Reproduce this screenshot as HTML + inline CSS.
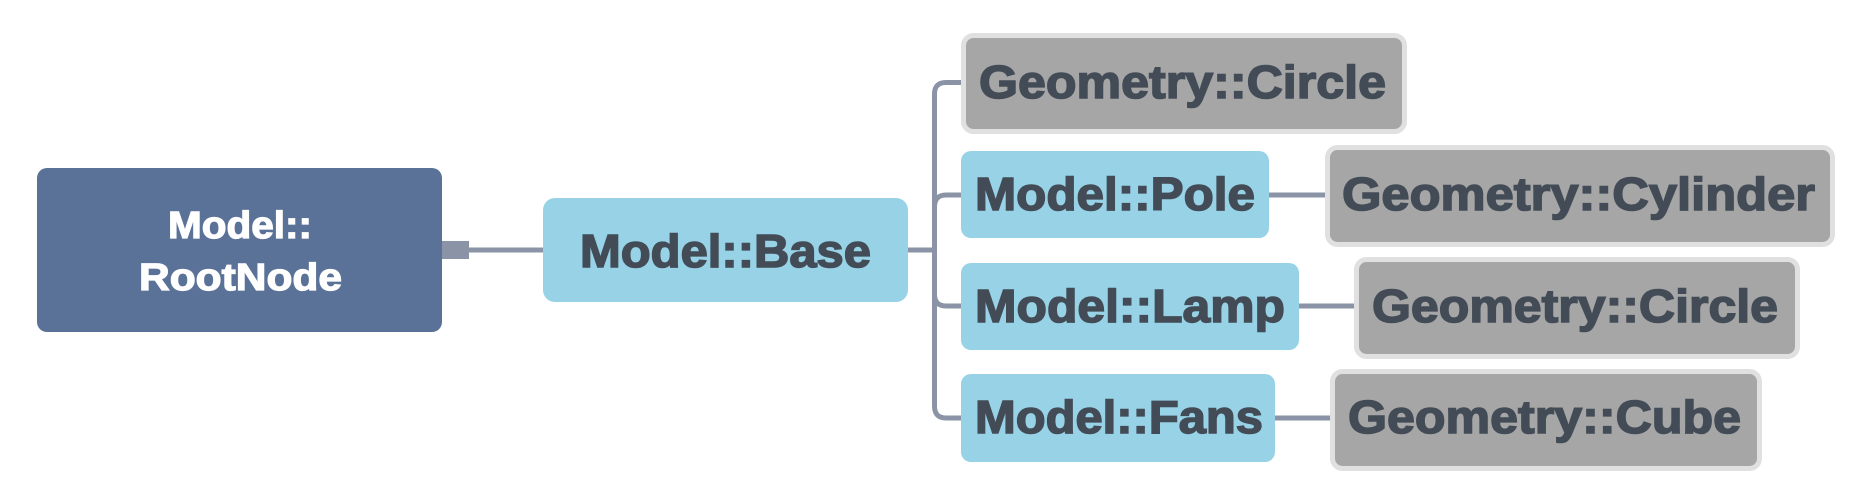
<!DOCTYPE html>
<html><head><meta charset="utf-8"><style>
html,body{margin:0;padding:0;background:#fff;width:1875px;height:501px;overflow:hidden}
text{font-family:"Liberation Sans",sans-serif;font-weight:bold}
</style></head><body>
<svg width="1875" height="501" viewBox="0 0 1875 501" xmlns="http://www.w3.org/2000/svg">
<g fill="none" stroke="#8a94a6" stroke-width="5">
<line x1="469" y1="250" x2="543" y2="250"/>
<line x1="907" y1="250" x2="935" y2="250"/>
<path d="M961 82.5 H946 Q934.5 82.5 934.5 94 V406 Q934.5 418 946 418 H961"/>
<path d="M961 195 H946 Q934.5 195 934.5 207"/>
<path d="M961 306 H946 Q934.5 306 934.5 294"/>
<line x1="1269" y1="195" x2="1325" y2="195"/>
<line x1="1299" y1="306" x2="1354" y2="306"/>
<line x1="1275" y1="418" x2="1330" y2="418"/>
</g>
<rect x="442" y="241" width="27" height="18" fill="#8a94a6"/>
<rect x="37" y="168" width="405" height="164" rx="10" fill="#5b7298"/>
<rect x="543" y="198" width="365" height="104" rx="12" fill="#97d2e7"/>
<rect x="961" y="151" width="308" height="87" rx="10" fill="#97d2e7"/>
<rect x="961" y="263" width="338" height="87" rx="10" fill="#97d2e7"/>
<rect x="961" y="374" width="314" height="88" rx="10" fill="#97d2e7"/>
<g fill="#a6a6a6" stroke="#e0e0e0" stroke-width="5">
<rect x="963.5" y="35.5" width="441" height="96" rx="10"/>
<rect x="1327.5" y="147.5" width="505" height="97" rx="10"/>
<rect x="1356.5" y="259.5" width="441" height="97" rx="10"/>
<rect x="1332.5" y="371.5" width="427" height="97" rx="10"/>
</g>
<g fill="#fff" stroke="#fff" stroke-width="1.2" font-size="38">
<text x="168" y="238" textLength="144" lengthAdjust="spacingAndGlyphs">Model::</text>
<text x="139" y="290" textLength="203" lengthAdjust="spacingAndGlyphs">RootNode</text>
</g>
<g fill="#434c56" stroke="#434c56" stroke-width="1.5" font-size="46">
<text x="580" y="267" textLength="291" lengthAdjust="spacingAndGlyphs">Model::Base</text>
<text x="975" y="210" textLength="280" lengthAdjust="spacingAndGlyphs">Model::Pole</text>
<text x="975" y="322" textLength="310" lengthAdjust="spacingAndGlyphs">Model::Lamp</text>
<text x="975" y="433" textLength="288" lengthAdjust="spacingAndGlyphs">Model::Fans</text>
<text x="979" y="98" textLength="407" lengthAdjust="spacingAndGlyphs">Geometry::Circle</text>
<text x="1342" y="210" textLength="473" lengthAdjust="spacingAndGlyphs">Geometry::Cylinder</text>
<text x="1372" y="322" textLength="406" lengthAdjust="spacingAndGlyphs">Geometry::Circle</text>
<text x="1348" y="433" textLength="393" lengthAdjust="spacingAndGlyphs">Geometry::Cube</text>
</g>
</svg>
</body></html>
